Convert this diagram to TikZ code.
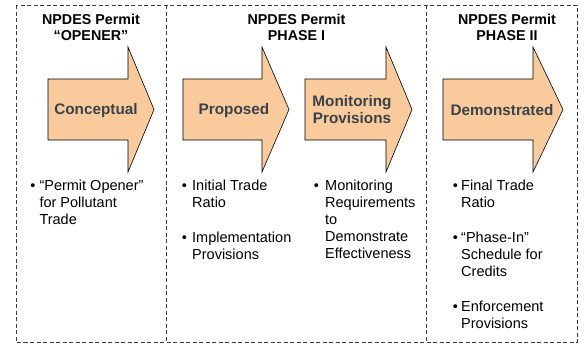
\documentclass[tikz,border=0pt]{standalone}
\usepackage{fontspec}
\setmainfont{Liberation Sans}
\definecolor{arrowfill}{HTML}{F9CB9C}
\definecolor{labelgrey}{HTML}{3A424A}
\definecolor{framegrey}{HTML}{3C3C3C}
\tikzset{
  phaseframe/.style={draw=framegrey, line width=0.9pt, dash pattern=on 4pt off 2.5pt},
  bigarrow/.style={fill=arrowfill, draw=black, line width=0.6pt, line join=miter},
  heading/.style={font=\fontsize{14.3}{16}\selectfont\bfseries, anchor=base, inner sep=0pt},
  arrowlabel/.style={font=\fontsize{15.3}{18}\selectfont\bfseries, text=labelgrey, anchor=base, inner sep=0pt},
  bullettext/.style={font=\fontsize{14.5}{17}\selectfont, anchor=base west, inner sep=0pt},
  bulletdot/.style={font=\fontsize{14.5}{17}\selectfont, anchor=base, inner sep=0pt},
}
\newcommand\phasearrow[3]{%
  \draw[bigarrow] (#1,79) -- (#2,79) -- (#2,47) -- (#3,109.5) -- (#2,172) -- (#2,140) -- (#1,140) -- cycle;}
\newcommand\btext[2]{\parbox[t]{#1}{\raggedright #2}}
\begin{document}
\begin{tikzpicture}[x=1pt,y=-1pt]
\useasboundingbox (0,0) rectangle (585,343);
% frames
\draw[phaseframe] (16,5) rectangle (577,342);
\draw[phaseframe] (166.5,5) -- (166.5,342);
\draw[phaseframe] (426.5,5) -- (426.5,342);
% headings
\node[heading] (h1a) at (91,24.4) {NPDES Permit};
\node[heading] (h1b) at (91,40) {“OPENER”};
\node[heading] (h2a) at (296.5,24.4) {NPDES Permit};
\node[heading] (h2b) at (296.5,40) {PHASE I};
\node[heading] (h3a) at (507,24.4) {NPDES Permit};
\node[heading] (h3b) at (507,40) {PHASE II};
% arrows
\phasearrow{48}{128}{154}
\phasearrow{183}{262}{289}
\phasearrow{305}{386}{412}
\phasearrow{443}{533}{563}
\node[arrowlabel] (a1) at (96,114.5) {Conceptual};
\node[arrowlabel] (a2) at (234,114.5) {Proposed};
\node[arrowlabel] (a3a) at (352,106) {Monitoring};
\node[arrowlabel] (a3b) at (352,123.5) {Provisions};
\node[arrowlabel] (a4) at (502,115) {Demonstrated};
% bullets column 1
\node[bulletdot] (d1) at (33,190.5) {•};
\node[bullettext] (t1) at (39.3,190.5) {\btext{120pt}{“Permit Opener”\\for Pollutant\\Trade}};
% column 2
\node[bulletdot] (d2) at (184.5,190.5) {•};
\node[bullettext] (t2) at (192,190.5) {\btext{110pt}{Initial Trade\\Ratio}};
\node[bulletdot] (d3) at (184.5,242.5) {•};
\node[bullettext] (t3) at (192,242.5) {\btext{110pt}{Implementation\\Provisions}};
% column 3
\node[bulletdot] (d4) at (316.5,190.5) {•};
\node[bullettext] (t4) at (325,190.5) {\btext{110pt}{Monitoring\\Requirements\\to\\Demonstrate\\Effectiveness}};
% column 4
\node[bulletdot] (d5) at (455.5,190.5) {•};
\node[bullettext] (t5) at (461,190.5) {\btext{110pt}{Final Trade\\Ratio}};
\node[bulletdot] (d6) at (455.5,242.5) {•};
\node[bullettext] (t6) at (461,242.5) {\btext{110pt}{“Phase-In”\\Schedule for\\Credits}};
\node[bulletdot] (d7) at (455.5,311.5) {•};
\node[bullettext] (t7) at (461,311.5) {\btext{110pt}{Enforcement\\Provisions}};
\end{tikzpicture}
\end{document}
